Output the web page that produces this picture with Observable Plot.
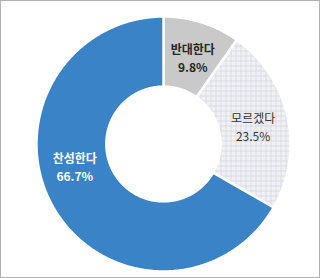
<!DOCTYPE html>
<html>
<head>
<meta charset="utf-8">
<script src="https://cdn.jsdelivr.net/npm/d3@7"></script>
<script src="https://cdn.jsdelivr.net/npm/@observablehq/plot@0.6"></script>
<style>
  html, body { margin: 0; padding: 0; background: #fff; }
  #wrap { position: relative; width: 320px; height: 278px; }
  #border { position: absolute; left: 0; top: 0; width: 320px; height: 278px; box-sizing: border-box; border: 1px solid #b0b0b0; pointer-events: none; }
</style>
</head>
<body>
<div id="wrap"><div id="border"></div></div>
<script>
// ---- data ----
const categories = ["반대한다", "모르겠다", "찬성한다"];
const values = [9.8, 23.5, 66.7];
const valueLabels = ["9.8%", "23.5%", "66.7%"];

// ---- styling / layout ----
const colors = ["#c9c9c9", "url(#grid)", "#3a83c6"];
const textColors = ["#262626", "#333333", "#ffffff"];
const textWeights = ["bold", "normal", "bold"];
const angleNudge = [1, 1, 16]; // degrees, label placement tweak
const innerR = 0.45;
const labelR = 0.72;

const total = d3.sum(values);
const rad = (deg) => deg * Math.PI / 180;

// build slice outlines (geometry sampled along each arc)
const ringPts = [];
const labelRows = [];
let acc = 0;
categories.forEach((cat, i) => {
  const a0 = acc / total * 360;
  acc += values[i];
  const a1 = acc / total * 360;
  const n = Math.max(2, Math.ceil((a1 - a0) / 0.5));
  for (let k = 0; k <= n; k++) {
    const a = rad(a0 + (a1 - a0) * k / n);
    ringPts.push({cat, x: Math.sin(a), y: Math.cos(a)});
  }
  for (let k = n; k >= 0; k--) {
    const a = rad(a0 + (a1 - a0) * k / n);
    ringPts.push({cat, x: innerR * Math.sin(a), y: innerR * Math.cos(a)});
  }
  const am = rad((a0 + a1) / 2 + angleNudge[i]);
  labelRows.push({
    cat, i,
    text: cat + "\n" + valueLabels[i],
    x: labelR * Math.sin(am),
    y: labelR * Math.cos(am)
  });
});

const chart = Plot.plot({
  width: 320,
  height: 278,
  marginLeft: 36,
  marginRight: 30,
  marginTop: 16,
  marginBottom: 7,
  x: {domain: [-1, 1], axis: null},
  y: {domain: [-1, 1], axis: null},
  color: {domain: categories, range: colors, legend: false},
  style: {background: "transparent", fontFamily: "'Noto Sans CJK KR', 'Noto Sans', sans-serif"},
  marks: [
    Plot.line(ringPts, {
      x: "x", y: "y", z: "cat",
      fill: "cat",
      stroke: "#ffffff",
      strokeWidth: 2.5,
      curve: "linear-closed"
    }),
    ...[0, 1, 2].map(i => Plot.text(labelRows.filter(d => d.i === i), {
      x: "x", y: "y", text: "text",
      fill: textColors[i],
      fontWeight: textWeights[i],
      fontSize: 12,
      lineHeight: 1.5,
      lineAnchor: "middle",
      textAnchor: "middle"
    }))
  ]
});

// grid pattern definition for the "모르겠다" slice
const ns = "http://www.w3.org/2000/svg";
const defs = document.createElementNS(ns, "defs");
defs.innerHTML = `
  <pattern id="grid" patternUnits="userSpaceOnUse" width="5" height="5">
    <rect width="5" height="5" fill="#f1f1f4"></rect>
    <path d="M0 0.5H5M0.5 0V5" stroke="#d9dce6" stroke-width="1" fill="none"></path>
  </pattern>`;
chart.insertBefore(defs, chart.firstChild);

document.getElementById("wrap").insertBefore(chart, document.getElementById("border"));
</script>
</body>
</html>
